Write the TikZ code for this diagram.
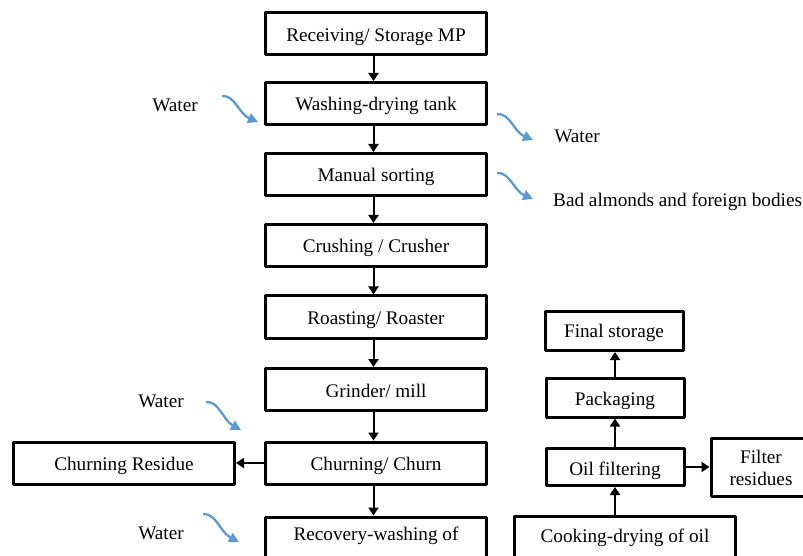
\documentclass[tikz,border=0pt]{standalone}
\usepackage{fontspec}
\setmainfont{Liberation Serif}
\usetikzlibrary{arrows.meta,calc}
\definecolor{flowblue}{HTML}{5B9BD5}
\begin{document}
\begin{tikzpicture}[x=1bp,y=-1bp,
  txt/.style={font=\fontsize{19.3}{22}\selectfont, inner sep=0pt},
  frame/.style={txt, draw, line width=3bp, line join=round},
  box/.style={frame, text height=15bp, text depth=0bp, minimum width=221bp, minimum height=42bp},
  sbox/.style={box, minimum width=138bp, minimum height=39bp},
  arr/.style={-{Triangle[length=8bp,width=10bp]}, line width=2bp},
  bluearr/.style={-{Triangle[length=10bp,width=10bp]}, line width=2.3bp, flowblue}
]
\useasboundingbox (0,0) rectangle (803,556);
\clip (0,0) rectangle (803,556);

% main column
\node[box] (recv)  at (376,34)    {Receiving/ Storage MP};
\node[box] (wash)  at (376,103.5) {Washing-drying tank};
\node[box] (sort)  at (376,174.5) {Manual sorting};
\node[box] (crush) at (376,245.5) {Crushing / Crusher};
\node[box] (roast) at (376,317)   {Roasting/ Roaster};
\node[box] (grind) at (376,389.5) {Grinder/ mill};
\node[box] (churn) at (376,463)   {Churning/ Churn};
\node[box] (resid) at (124,463)   {Churning Residue};
\node[frame, minimum width=221bp, minimum height=80bp, anchor=north] (recov) at (376,515.5) {};
\node[txt, anchor=base] (recovt) at (376,540) {Recovery-washing of};

% right column
\node[sbox, minimum height=39bp, text height=13bp] (final) at (614,331)   {Final storage};
\node[sbox] (pack)  at (615,397.5) {Packaging};
\node[sbox, minimum height=37bp, text height=16bp] (filt)  at (615,467) {Oil filtering};
\node[frame, minimum width=100bp, minimum height=58bp, align=center] (fres) at (761,467.5) {Filter\\residues};
\node[frame, minimum width=221bp, minimum height=80bp, anchor=north] (cook) at (625,514.5) {};
\node[txt, anchor=base] (cookt) at (625,542) {Cooking-drying of oil};

% side labels
\node[txt, anchor=base] (w1) at (175,112) {Water};
\node[txt, anchor=base] (w2) at (577,143) {Water};
\node[txt, anchor=base west] (bad) at (553,207) {Bad almonds and foreign bodies};
\node[txt, anchor=base] (w3) at (161,407) {Water};
\node[txt, anchor=base] (w4) at (161,539) {Water};

% black flow arrows
\foreach \a/\b in {recv/wash, wash/sort, sort/crush, crush/roast, roast/grind, grind/churn, churn/recov}
  \draw[arr] ([xshift=-2.5bp]\a.south) -- ([xshift=-2.5bp]\b.north);
\draw[arr] (churn.west) -- (resid.east);
\draw[arr] (cook.north -| filt.south) -- (filt.south);
\draw[arr] (filt.north) -- (pack.south);
\draw[arr] (pack.north) -- (pack.north |- final.south);
\draw[arr] (filt.east) -- (filt.east -| fres.west);

% blue curved arrows
\coordinate (b1s) at (222,96);  \coordinate (b1e) at (258,122);
\coordinate (b2s) at (497,114); \coordinate (b2e) at (533,140);
\coordinate (b3s) at (497,173); \coordinate (b3e) at (533,199);
\coordinate (b4s) at (206,402); \coordinate (b4e) at (241,430);
\coordinate (b5s) at (203,514); \coordinate (b5e) at (239,542);
\foreach \s/\e in {b1s/b1e, b2s/b2e, b3s/b3e, b4s/b4e, b5s/b5e}
  \draw[bluearr] (\s) .. controls ($(\s)+(13,-1)$) and ($(\s)+(17,18)$) .. (\e);
\end{tikzpicture}
\end{document}
